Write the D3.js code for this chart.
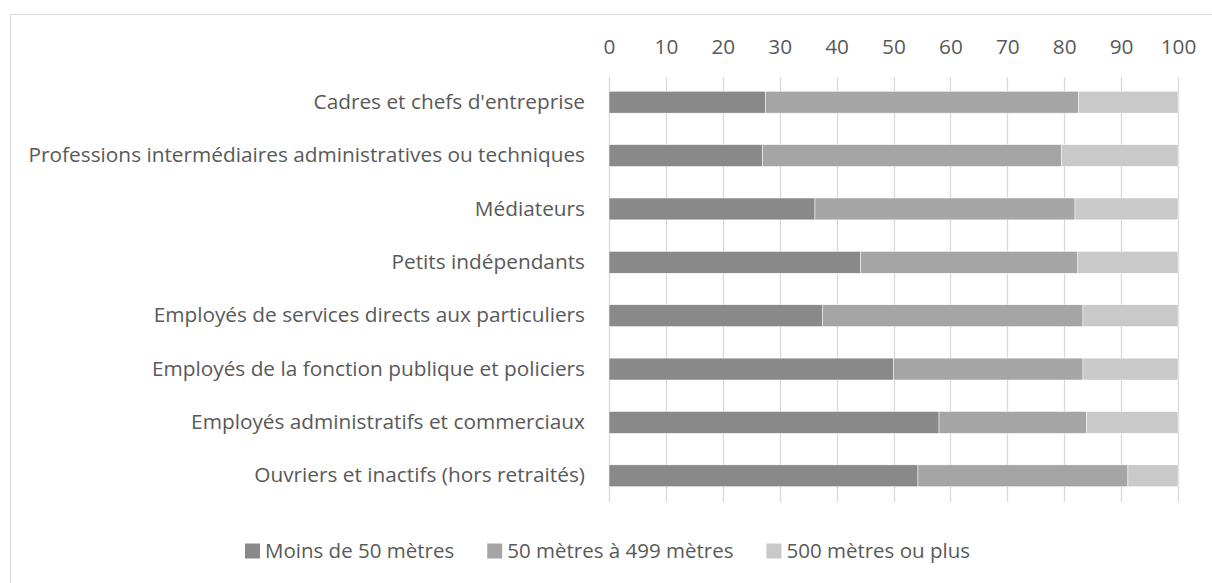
<!DOCTYPE html>
<html><head><meta charset="utf-8">
<script src="https://cdn.jsdelivr.net/npm/d3@7"></script>
<style>body{margin:0;background:#fff}svg{display:block}text{font-family:"Open Sans",sans-serif;fill:#595959}</style>
</head><body><svg id="c" width="1212" height="583"></svg>
<script>
const categories = ["Cadres et chefs d'entreprise","Professions intermédiaires administratives ou techniques","Médiateurs","Petits indépendants","Employés de services directs aux particuliers","Employés de la fonction publique et policiers","Employés administratifs et commerciaux","Ouvriers et inactifs (hors retraités)"];
const seriesNames = ["Moins de 50 mètres","50 mètres à 499 mètres","500 mètres ou plus"];
const moins50 = [27.5,27.0,36.2,44.2,37.5,50.0,58.0,54.3];
const de50a499 = [55.0,52.5,45.7,38.2,45.8,33.3,25.9,36.9];
const plus500 = [17.5,20.5,18.1,17.6,16.7,16.7,16.1,8.8];
const tickValues = [0,10,20,30,40,50,60,70,80,90,100];
const colors = ["#898989","#a5a5a5","#c9c9c9"];
const FS = 20.8;

const svg = d3.select("#c");
svg.append("rect").attr("x",10.5).attr("y",14.5).attr("width",1210).attr("height",600).attr("fill","none").attr("stroke","#d9d9d9");

const x = d3.scaleLinear().domain([0,100]).range([609,1178]);
const y = d3.scaleBand().domain(categories).range([75.5,502.5]).paddingInner(0.59).paddingOuter(0.295);

svg.append("g").selectAll("line").data(tickValues).join("line")
  .attr("x1",d=>Math.round(x(d))+0.5).attr("x2",d=>Math.round(x(d))+0.5)
  .attr("y1",77).attr("y2",502).attr("stroke","#d9d9d9").attr("stroke-width",1.3);

const data = categories.map((c,i)=>({cat:c,vals:[moins50[i],de50a499[i],plus500[i]]}));
const stack = d3.stack().keys([0,1,2]).value((d,k)=>d.vals[k])(data);
svg.append("g").selectAll("g").data(stack).join("g").attr("fill",(d,i)=>colors[i])
  .selectAll("rect").data(d=>d).join("rect")
  .attr("x",d=>x(d[0])).attr("width",d=>x(d[1])-x(d[0]))
  .attr("y",d=>y(d.data.cat)).attr("height",y.bandwidth())
  .attr("stroke","#fff").attr("stroke-width",0.5);

const xAxis = d3.axisTop(x).tickValues(tickValues).tickSize(0).tickPadding(0);
const gx = svg.append("g").attr("transform","translate(0,54)").call(xAxis);
gx.select(".domain").remove();
gx.selectAll("text").attr("font-size",FS).style("font-family","'Open Sans',sans-serif").attr("fill","#595959");

const yAxis = d3.axisLeft(y).tickSize(0).tickPadding(0);
const gy = svg.append("g").attr("transform","translate(585,0)").call(yAxis);
gy.select(".domain").remove();
gy.selectAll("text").attr("font-size",FS).style("font-family","'Open Sans',sans-serif").attr("fill","#595959");

const leg = svg.append("g");
let lx = 245;
seriesNames.forEach((name,i)=>{
  const g = leg.append("g").attr("transform",`translate(${lx},551)`);
  g.append("rect").attr("x",0).attr("y",-7.5).attr("width",15).attr("height",15).attr("fill",colors[i]);
  const t = g.append("text").attr("x",20).attr("dy","0.35em").attr("font-size",20.5).text(name);
  lx += 20 + t.node().getComputedTextLength() + 33;
});
</script></body></html>
